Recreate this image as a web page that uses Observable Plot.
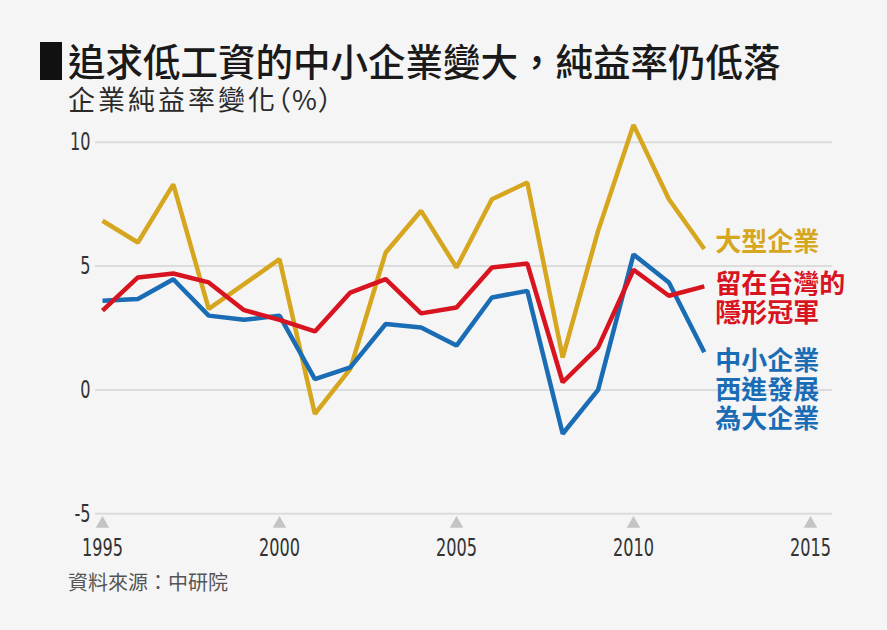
<!DOCTYPE html>
<html><head><meta charset="utf-8">
<script src="https://cdn.jsdelivr.net/npm/d3@7"></script>
<script src="https://cdn.jsdelivr.net/npm/@observablehq/plot@0.6"></script>
<style>
html,body{margin:0;padding:0;background:#f5f5f5;}
#wrap{position:relative;width:887px;height:630px;overflow:hidden;background:#f5f5f5;font-family:"Noto Sans CJK TC",sans-serif;}
#bar{position:absolute;left:40px;top:42px;width:22px;height:38px;background:#111;}
#title{position:absolute;left:68px;top:41px;font-size:37.5px;line-height:37px;color:#1a1a1a;font-weight:500;white-space:nowrap;}
#subtitle{position:absolute;left:68px;top:86px;font-size:27px;line-height:26px;color:#2a2a2a;white-space:nowrap;letter-spacing:3px;}
#subtitle .p{letter-spacing:1px;margin-left:-14px;}
#chart{position:absolute;left:0;top:118px;}
#caption{position:absolute;left:68px;top:572px;font-size:20px;line-height:20px;color:#555;white-space:nowrap;}
</style></head>
<body>
<div id="wrap">
  <div id="bar"></div>
  <div id="title">追求低工資的中小企業變大，純益率仍低落</div>
  <div id="subtitle">企業純益率變化<span class="p">（%）</span></div>
  <div id="chart"></div>
  <div id="caption">資料來源：中研院</div>
</div>
<script>
const years = [1995,1996,1997,1998,1999,2000,2001,2002,2003,2004,2005,2006,2007,2008,2009,2010,2011,2012];
const large  = [6.83,5.95,8.30,3.27,4.27,5.28,-0.97,0.85,5.55,7.23,4.94,7.70,8.37,1.31,6.42,10.70,7.70,5.69];
const hidden = [3.20,4.54,4.70,4.34,3.22,2.83,2.36,3.93,4.47,3.09,3.33,4.94,5.10,0.31,1.72,4.85,3.80,4.18];
const sme    = [3.60,3.67,4.47,3.00,2.83,3.00,0.44,0.91,2.66,2.52,1.79,3.73,4.00,-1.77,0.00,5.47,4.34,1.52];
const xTicks = [1995,2000,2005,2010,2015];
const yTicks = [-5,0,5,10];
const labelLarge = ["大型企業"];
const labelHidden = ["留在台灣的", "隱形冠軍"];
const labelSme = ["中小企業", "西進發展", "為大企業"];

const toRows = (vals) => years.map((y, i) => ({year: y, value: vals[i]}));
const lastYear = years[years.length - 1];
const numFont = '"DejaVu Sans Condensed","Liberation Sans Narrow",sans-serif';
const cjk = '"Noto Sans CJK TC",sans-serif';
const cYellow = "#d6a61e", cRed = "#d7141f", cBlue = "#1a6db5";

const lineOpts = {x: "year", y: "value", strokeWidth: 4.5, strokeLinejoin: "miter", strokeLinecap: "butt"};
const labelOpts = (fill) => ({x: () => lastYear, dx: 11, textAnchor: "start", lineAnchor: "middle", fill, fontSize: 26, fontWeight: 700, fontFamily: cjk});

const chart = Plot.plot({
  width: 887,
  height: 440,
  marginLeft: 102,
  marginRight: 77,
  marginTop: 23.7,
  marginBottom: 44.7,
  style: {background: "transparent", fontFamily: numFont, color: "#333", overflow: "visible"},
  x: {domain: [1995, 2015], axis: null},
  y: {domain: [-5, 10], axis: null},
  marks: [
    Plot.ruleY(yTicks, {stroke: "#dcdcdc", strokeWidth: 2, insetLeft: -7, insetRight: -22}),
    Plot.axisY({ticks: yTicks, tickSize: 0, tickPadding: 12, fontSize: 25, label: null, tickFormat: d => String(d), fontFamily: numFont}),
    Plot.axisX({ticks: xTicks, tickSize: 0, tickPadding: 24, fontSize: 25, label: null, tickFormat: d => String(d), fontFamily: numFont}),
    Plot.dot(xTicks, {x: d => d, frameAnchor: "bottom", dy: 10, symbol: "triangle", r: 5, fill: "#c4c4c4", stroke: "none"}),
    Plot.line(toRows(large), {...lineOpts, stroke: cYellow}),
    Plot.line(toRows(sme), {...lineOpts, stroke: cBlue}),
    Plot.line(toRows(hidden), {...lineOpts, stroke: cRed}),
    Plot.text(labelLarge, {...labelOpts(cYellow), y: () => 5.96}),
    Plot.text(labelHidden, {...labelOpts(cRed), y: (d, i) => 4.26 - i * 1.2}),
    Plot.text(labelSme, {...labelOpts(cBlue), y: (d, i) => 1.14 - i * 1.17})
  ]
});
document.getElementById("chart").appendChild(chart);

// condense the numeric tick labels to match the narrow face of the original
const axisTexts = d3.select(chart).selectAll('g[aria-label="x-axis tick label"] text, g[aria-label="y-axis tick label"] text');
let k = 1;
axisTexts.each(function() { if (this.textContent === "1995") k = 41 / this.getComputedTextLength(); });
axisTexts.each(function() {
  const w = this.getComputedTextLength();
  d3.select(this).attr("textLength", w * k).attr("lengthAdjust", "spacingAndGlyphs");
});
</script>
</body></html>
